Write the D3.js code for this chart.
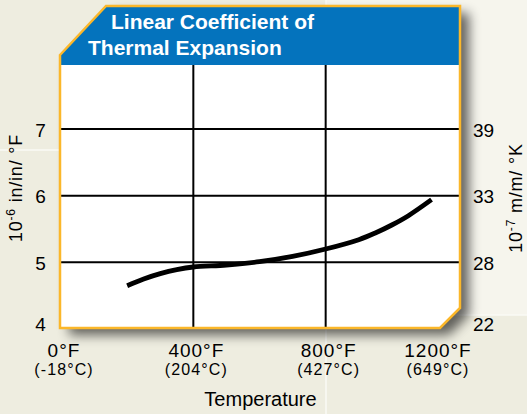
<!DOCTYPE html>
<html>
<head>
<meta charset="utf-8">
<script src="https://cdn.jsdelivr.net/npm/d3@7"></script>
<style>
  html, body { margin: 0; padding: 0; background: #efeee2; }
  svg { display: block; font-family: "Liberation Sans", Arial, Helvetica, sans-serif; }
</style>
</head>
<body>
<div id="chart"></div>
<script>
// data
const tempF = [200, 250, 300, 350, 400, 500, 600, 700, 800, 900, 950, 1000, 1050, 1120];
const coef = [4.65, 4.75, 4.83, 4.89, 4.93, 4.96, 5.01, 5.09, 5.20, 5.34, 5.44, 5.56, 5.70, 5.94];

const xTicks = [0, 400, 800, 1200];
const xTickC = ['(-18°C)', '(204°C)', '(427°C)', '(649°C)'];
const yTicks = [4, 5, 6, 7];
const yTicksRight = ['22', '28', '33', '39'];

const width = 527,
    height = 414;

let svg = d3.select('#chart')
    .append('svg')
        .attr('width', width)
        .attr('height', height);

let defs = svg.append('defs');

let shadow = defs.append('filter')
    .attr('id', 'shadow')
    .attr('x', '-10%').attr('y', '-10%')
    .attr('width', '130%').attr('height', '130%');
shadow.append('feGaussianBlur').attr('in', 'SourceAlpha').attr('stdDeviation', 6).attr('result', 'blur');
shadow.append('feOffset').attr('in', 'blur').attr('dx', 9).attr('dy', 7).attr('result', 'off');
shadow.append('feComponentTransfer').attr('in', 'off').attr('result', 'sh')
    .append('feFuncA').attr('type', 'linear').attr('slope', 0.6);
let merge = shadow.append('feMerge');
merge.append('feMergeNode').attr('in', 'sh');
merge.append('feMergeNode').attr('in', 'SourceGraphic');

// background texture: lighter block top right, thin light seams
let bgG = svg.append('g').attr('class', 'bg');
bgG.append('rect').attr('x', 0).attr('y', 0).attr('width', width).attr('height', height).attr('fill', '#eeede0');
bgG.append('rect').attr('x', 326).attr('y', 0).attr('width', width - 326).attr('height', 315).attr('fill', '#f6f5ed');
bgG.append('path')
    .attr('d', 'M326,0L326,' + height + 'M0,150L326,150M326,315L' + width + ',315')
    .attr('stroke', '#fafaf5')
    .attr('stroke-width', 1.5)
    .attr('fill', 'none');

// scales
let x = d3.scaleLinear().domain([0, 1200]).range([61, 458]);
let y = d3.scaleLinear().domain([4, 7]).range([329, 129]);

const panelL = 60, panelR = 460, panelT = 6, panelB = 328, headerB = 65;
const panelPath = 'M' + panelL + ',55L106,' + panelT + 'L' + panelR + ',' + panelT +
    'L' + panelR + ',308L440,' + panelB + 'L' + panelL + ',' + panelB + 'Z';

defs.append('clipPath').attr('id', 'panel-clip')
    .append('path').attr('d', panelPath);

let panelG = svg.append('g').attr('class', 'panel');

panelG.append('path')
    .attr('d', panelPath)
    .attr('fill', '#ffffff')
    .attr('filter', 'url(#shadow)');

let innerG = panelG.append('g').attr('clip-path', 'url(#panel-clip)');

innerG.append('rect')
    .attr('x', panelL).attr('y', 0)
    .attr('width', panelR - panelL).attr('height', headerB)
    .attr('fill', '#0473bd');

// grid
innerG.append('g')
    .selectAll('path')
    .data(yTicks.slice(1))
    .enter()
    .append('path')
        .attr('d', d => 'M' + panelL + ',' + y(d) + 'L' + panelR + ',' + y(d))
        .attr('stroke', '#000')
        .attr('stroke-width', 2);

innerG.append('g')
    .selectAll('path')
    .data(xTicks.slice(1, 3))
    .enter()
    .append('path')
        .attr('d', d => 'M' + x(d) + ',' + headerB + 'L' + x(d) + ',' + panelB)
        .attr('stroke', '#000')
        .attr('stroke-width', 2);

// curve
let line = d3.line()
    .x((d, i) => x(tempF[i]))
    .y(d => y(d))
    .curve(d3.curveCatmullRom.alpha(0.5));

innerG.append('path')
    .datum(coef)
    .attr('d', line)
    .attr('fill', 'none')
    .attr('stroke', '#000')
    .attr('stroke-width', 4.8)
    .attr('stroke-linecap', 'butt');

panelG.append('path')
    .attr('d', panelPath)
    .attr('fill', 'none')
    .attr('stroke', '#fbb72a')
    .attr('stroke-width', 2.5);

// title
let titleG = svg.append('g')
    .attr('fill', '#fff')
    .style('font-weight', 'bold')
    .style('font-size', '21px');
titleG.append('text').attr('x', 111).attr('y', 29).text('Linear Coefficient of');
titleG.append('text').attr('x', 88).attr('y', 55).text('Thermal Expansion');

// left axis labels
svg.append('g')
    .selectAll('text')
    .data(yTicks)
    .enter()
    .append('text')
        .attr('x', 40.5)
        .attr('y', (d, i) => y(d) + (i ? 1 : -5))
        .attr('text-anchor', 'middle')
        .attr('dominant-baseline', 'central')
        .style('font-size', '19px')
        .text(d => d);

// right axis labels
svg.append('g')
    .selectAll('text')
    .data(yTicksRight)
    .enter()
    .append('text')
        .attr('x', 473)
        .attr('y', (d, i) => y(yTicks[i]) + (i ? 1 : -5))
        .attr('dominant-baseline', 'central')
        .style('font-size', '19px')
        .text(d => d);

// bottom labels
let xLabG = svg.append('g').attr('text-anchor', 'middle');
xLabG.selectAll('text.f')
    .data(xTicks)
    .enter()
    .append('text')
        .attr('class', 'f')
        .attr('x', (d, i) => x(d) + (i === xTicks.length - 1 ? -20 : 3))
        .attr('y', 357)
        .style('font-size', '19px')
        .style('letter-spacing', '1px')
        .text(d => d + '°F');
xLabG.selectAll('text.c')
    .data(xTicks)
    .enter()
    .append('text')
        .attr('class', 'c')
        .attr('x', (d, i) => x(d) + (i === xTicks.length - 1 ? -20 : 3))
        .attr('y', 374.5)
        .style('font-size', '16px')
        .style('letter-spacing', '1.1px')
        .text((d, i) => xTickC[i]);

svg.append('text')
    .attr('x', 260.5)
    .attr('y', 406)
    .attr('text-anchor', 'middle')
    .style('font-size', '20px')
    .text('Temperature');

// axis titles
let leftT = svg.append('text')
    .attr('transform', 'translate(22,188) rotate(-90)')
    .attr('text-anchor', 'middle')
    .style('font-size', '18px')
    .style('letter-spacing', '0.8px');
leftT.append('tspan').text('10');
leftT.append('tspan').attr('dy', -7).style('font-size', '12px').text('-6');
leftT.append('tspan').attr('dy', 7).text(' in/in/ °F');

let rightT = svg.append('text')
    .attr('transform', 'translate(522,198) rotate(-90)')
    .attr('text-anchor', 'middle')
    .style('font-size', '18px')
    .style('letter-spacing', '0.8px');
rightT.append('tspan').text('10');
rightT.append('tspan').attr('dy', -7).style('font-size', '12px').text('-7');
rightT.append('tspan').attr('dy', 7).text(' m/m/ °K');
</script>
</body>
</html>
